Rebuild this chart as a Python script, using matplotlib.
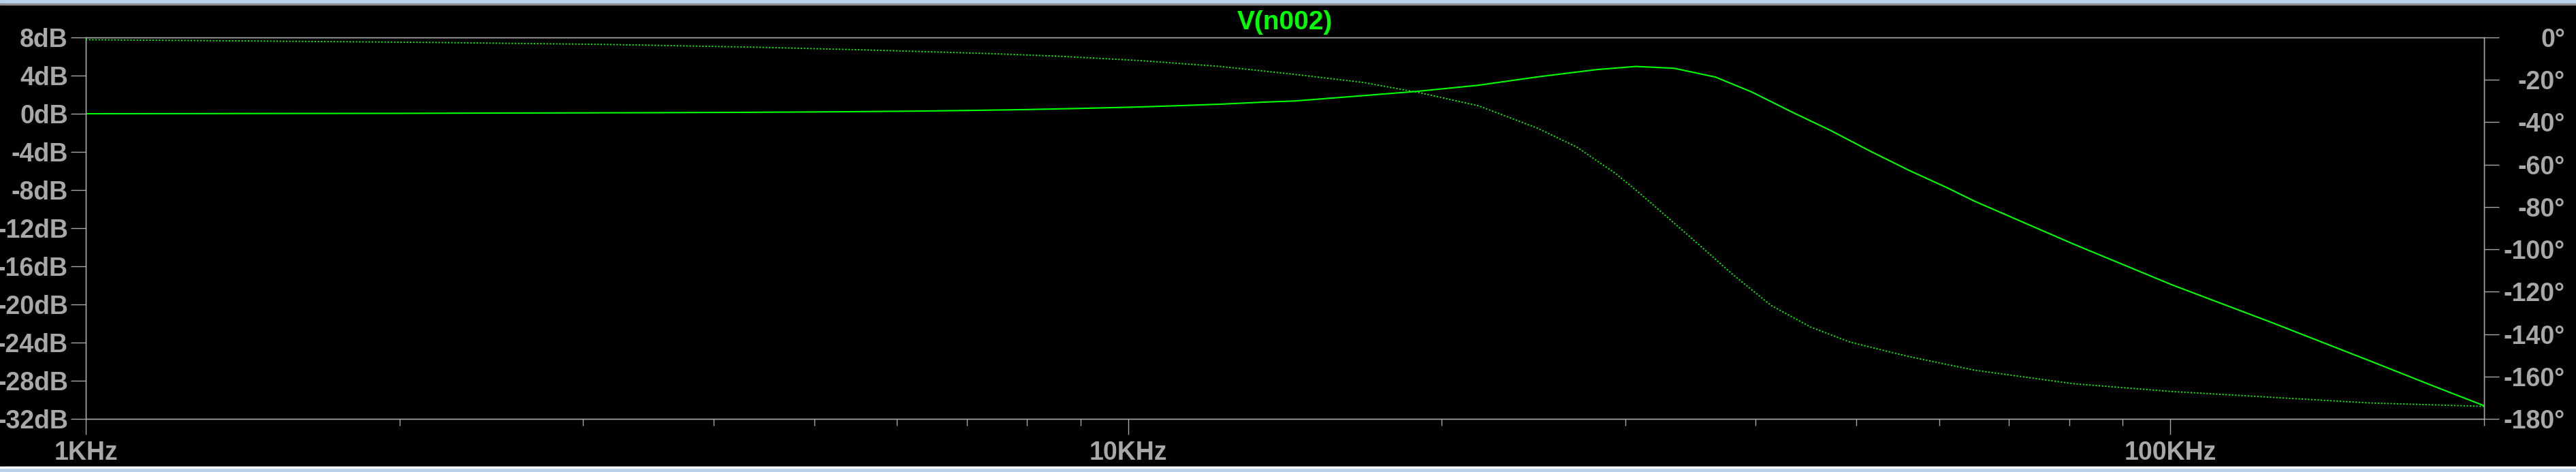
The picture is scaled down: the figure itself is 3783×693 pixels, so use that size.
import numpy as np
import matplotlib
matplotlib.use('Agg')
import matplotlib.pyplot as plt
from matplotlib.ticker import FixedLocator, FuncFormatter, NullFormatter

# magnitude of V(n002) (kHz, dB)
freq_mag = [1.0, 2.0, 2.43, 3.2, 4.16, 5.34, 6.32, 7.18, 8.0, 9.18, 10.3, 11.35,
            12.3, 13.5, 14.46, 16.5, 18.9, 21.65, 24.65, 28.15, 30.7, 33.4,
            36.6, 39.72, 43.27, 47.22, 51.44, 56.15, 61.15, 64.85, 80.7,
            100.4, 125.0, 155.5, 179.9, 200.0]
mag_db = [0.0, 0.04, 0.07, 0.1, 0.14, 0.21, 0.28, 0.36, 0.44, 0.58, 0.72, 0.87,
          1.01, 1.22, 1.34, 1.83, 2.34, 2.98, 3.85, 4.63, 4.96, 4.77,
          3.85, 2.25, 0.22, -1.76, -3.88, -5.94, -7.79, -9.16, -13.66,
          -17.95, -21.88, -25.93, -28.67, -30.62]

# phase (kHz, degrees)
freq_ph = [1.0, 1.47, 2.15, 3.16, 4.4, 5.61, 7.26, 8.63, 10.26, 12.2, 13.3,
           14.49, 16.8, 19.06, 21.7, 24.7, 26.94, 29.36, 30.7, 32.0, 34.9,
           38.0, 41.4, 45.19, 49.3, 56.0, 64.85, 80.7, 100.4, 125.0, 155.5,
           200.0]
phase_deg = [-1.07, -1.7, -2.35, -3.3, -4.6, -5.9, -7.5, -8.9, -10.9, -13.6,
             -15.5, -17.5, -21.2, -26.1, -32.3, -42.8, -51.7, -64.2, -72.0,
             -79.6, -95.7, -111.7, -126.5, -136.7, -143.8, -150.5, -157.0,
             -163.4, -167.1, -169.8, -172.5, -174.1]

db_ticks = [8, 4, 0, -4, -8, -12, -16, -20, -24, -28, -32]
deg_ticks = [0, -20, -40, -60, -80, -100, -120, -140, -160, -180]
x_ticks = [1e3, 1e4, 1e5]
x_labels = ['1KHz', '10KHz', '100KHz']

W, H = 3783, 693
grey = '#a8a8a8'
green = '#00ff00'
fnt = 'Liberation Sans'

fig = plt.figure(figsize=(W / 100, H / 100), dpi=100, facecolor='black')
# window chrome strips
fig.patches.append(plt.Rectangle((0, 1 - 5 / H), 1, 5 / H, transform=fig.transFigure,
                                 color='#b9d1ea', zorder=0))
fig.patches.append(plt.Rectangle((0, 1 - 7 / H), 1, 2 / H, transform=fig.transFigure,
                                 color='#8c8c8c', zorder=0))
fig.patches.append(plt.Rectangle((0, 0), 1, 6 / H, transform=fig.transFigure,
                                 color='#b9d1ea', zorder=0))
fig.patches.append(plt.Rectangle((0, 6 / H), 1, 2 / H, transform=fig.transFigure,
                                 color='white', zorder=0))

left, right, top, bottom = 126, 3648, 55, 615
ax = fig.add_axes([left / W, (H - bottom) / H, (right - left) / W, (bottom - top) / H])
ax.set_facecolor('black')
ax2 = ax.twinx()

f_mag = np.array(freq_mag) * 1e3
f_ph = np.array(freq_ph) * 1e3
ax.semilogx(f_mag, mag_db, color=green, lw=1.5, zorder=3)
ax2.semilogx(f_ph, phase_deg, color=green, lw=1.4, linestyle=(0, (1, 1.4)), zorder=3)

ax.set_xlim(1e3, 200e3)
ax.set_ylim(-32, 8)
ax2.set_ylim(-180, 0)

ax.xaxis.set_major_locator(FixedLocator(x_ticks))
ax.set_xticklabels(x_labels)
ax.xaxis.set_minor_locator(FixedLocator([m * d for d in (1e3, 1e4, 1e5) for m in range(2, 10)]))
ax.xaxis.set_minor_formatter(NullFormatter())

ax.yaxis.set_major_locator(FixedLocator(db_ticks))
ax.yaxis.set_major_formatter(FuncFormatter(lambda v, p: '%ddB' % v))
ax2.yaxis.set_major_locator(FixedLocator(deg_ticks))
ax2.yaxis.set_major_formatter(FuncFormatter(lambda v, p: '%d\u00b0' % v))
ax.yaxis.set_minor_locator(FixedLocator([]))
ax2.yaxis.set_minor_locator(FixedLocator([]))

px = 0.72  # points per pixel
ax.tick_params(axis='x', which='major', direction='out', length=23 * px, width=1,
               color=grey, labelcolor=grey, pad=9 * px, labelsize=27)
ax.tick_params(axis='x', which='minor', direction='out', length=10 * px, width=1, color=grey)
ax.tick_params(axis='y', direction='out', length=22 * px, width=1, color=grey,
               labelcolor=grey, pad=4 * px, labelsize=27, right=False)
ax2.tick_params(axis='y', direction='out', length=22 * px, width=1, color=grey,
                labelcolor=grey, pad=97 * px, labelsize=27)

for t in ax.get_xticklabels() + ax.get_yticklabels() + ax2.get_yticklabels():
    t.set_fontfamily(fnt)
    t.set_fontweight('bold')
for t in ax2.get_yticklabels():
    t.set_horizontalalignment('right')

for a in (ax, ax2):
    for s in a.spines.values():
        s.set_color(grey)
        s.set_linewidth(1)

fig.text((left + right) / 2 / W, 1 - 43 / H, 'V(n002)', color=green, fontsize=28,
         fontweight='bold', family=fnt, ha='center', va='baseline')

fig.savefig('out.png', dpi=100, facecolor='black')
